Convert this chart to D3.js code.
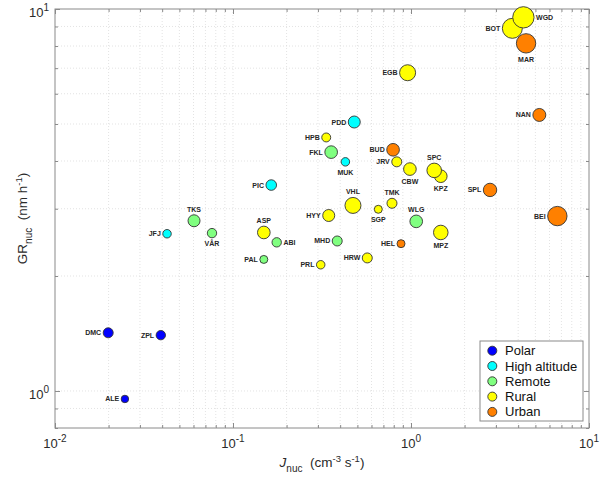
<!DOCTYPE html>
<html><head><meta charset="utf-8">
<script src="https://cdn.jsdelivr.net/npm/d3@7"></script>
<style>body{margin:0;background:#fff} text{font-family:"Liberation Sans",Arial,Helvetica,sans-serif}</style>
</head><body><svg id="c" width="600" height="480"></svg>
<script>
const categories = ['Polar','High altitude','Remote','Rural','Urban'];
const categoryColors = ['#0000ff','#00ffff','#80ff80','#ffff00','#ff8000'];
const sites = ['DMC','ZPL','ALE',
  'PDD','MUK','PIC','JFJ',
  'FKL','TKS','VÅR','ABI','PAL','WLG','MHD',
  'HPB','JRV','CBW','KPZ','SPC','VHL','TMK','SGP','ASP','HYY','MPZ','HRW','PRL','EGB','BOT','WGD',
  'BUD','SPL','HEL','NAN','BEI','MAR'];
const siteCategory = [0,0,0, 1,1,1,1, 2,2,2,2,2,2,2,
  3,3,3,3,3,3,3,3,3,3,3,3,3,3,3,3, 4,4,4,4,4,4];
const jNuc = [0.0199,0.0393,0.0247,
  0.480,0.428,0.164,0.0426,
  0.356,0.0604,0.0762,0.176,0.149,1.07,0.385,
  0.334,0.832,0.986,1.47,1.35,0.472,0.782,0.655,0.149,0.345,1.47,0.568,0.311,0.957,3.71,4.28,
  0.793,2.78,0.879,5.26,6.64,4.43];
const grNuc = [1.42,1.40,0.953,
  5.06,3.98,3.46,2.58,
  4.22,2.79,2.59,2.45,2.21,2.78,2.47,
  4.61,3.98,3.81,3.65,3.78,3.06,3.10,2.99,2.60,2.88,2.60,2.23,2.14,6.81,8.90,9.51,
  4.28,3.36,2.43,5.28,2.87,8.13];
const markerArea = [25,22,14,
  36,18,28,18,
  40,36,22,22,16,40,25,
  20,25,40,40,53,64,25,16,40,36,53,25,18,64,100,114,
  40,45,16,42,94,94];
const labelSide = ['l','l','l',
  'l','b','l','l',
  'l','t','b','r','l','t','l',
  'l','l','b','b','t','t','t','b','t','l','b','l','l','l','l','r',
  'l','l','l','l','l','b'];
const xDomain = [0.01, 10];
const yDomain = [0.8, 10];
const xTickExps = [-2,-1,0,1];
const yTickExps = [0,1];

const svg = d3.select('#c');
const L=55,R=589,T=9,B=428;
const x = d3.scaleLog().domain(xDomain).range([L,R]);
const y = d3.scaleLog().domain(yDomain).range([B,T]);
const rScale = d3.scaleSqrt().domain([0,100]).range([0,10]);

function logTicks(lo, hi){
  const out=[];
  for(let e=Math.floor(Math.log10(lo)); e<=Math.ceil(Math.log10(hi)); e++){
    for(let k=1;k<10;k++){const v=k*Math.pow(10,e); if(v>=lo*0.9999 && v<=hi*1.0001) out.push(v);}
  }
  return out;
}
const xAll = logTicks(xDomain[0], xDomain[1]);
const yAll = logTicks(yDomain[0], yDomain[1]);
const isMajor = v => Math.abs(Math.log10(v)-Math.round(Math.log10(v)))<1e-6;

// grid
const grid = svg.append('g').attr('stroke','#dcdcdc').attr('stroke-width',0.8).attr('stroke-dasharray','1,2');
xAll.filter(v=>x(v)>L+0.5 && x(v)<R-0.5).forEach(v=>{
  grid.append('line').attr('x1',x(v)).attr('x2',x(v)).attr('y1',T).attr('y2',B);
});
yAll.filter(v=>y(v)>T+0.5 && y(v)<B-0.5).forEach(v=>{
  grid.append('line').attr('y1',y(v)).attr('y2',y(v)).attr('x1',L).attr('x2',R);
});

// axes ticks (inward, all four sides)
const axCol = '#8a8a8a';
function styleAxis(g){ g.selectAll('path').remove(); g.selectAll('line').attr('stroke',axCol); g.selectAll('text').remove(); }
const xMaj = xAll.filter(isMajor), xMin = xAll.filter(v=>!isMajor(v));
const yMaj = yAll.filter(isMajor), yMin = yAll.filter(v=>!isMajor(v));
[[xMaj,5],[xMin,3]].forEach(([vals,len])=>{
  svg.append('g').attr('transform',`translate(0,${B})`).call(d3.axisBottom(x).tickValues(vals).tickSize(-len).tickFormat('')).call(styleAxis);
  svg.append('g').attr('transform',`translate(0,${T})`).call(d3.axisTop(x).tickValues(vals).tickSize(-len).tickFormat('')).call(styleAxis);
});
[[yMaj,5],[yMin,3]].forEach(([vals,len])=>{
  svg.append('g').attr('transform',`translate(${L},0)`).call(d3.axisLeft(y).tickValues(vals).tickSize(-len).tickFormat('')).call(styleAxis);
  svg.append('g').attr('transform',`translate(${R},0)`).call(d3.axisRight(y).tickValues(vals).tickSize(-len).tickFormat('')).call(styleAxis);
});
svg.append('rect').attr('x',L).attr('y',T).attr('width',R-L).attr('height',B-T)
  .attr('fill','none').attr('stroke',axCol).attr('stroke-width',1);

// tick labels
const tCol = '#2a2a2a';
xTickExps.forEach(e=>{
  const t = svg.append('text').attr('x',x(Math.pow(10,e))).attr('y',448).attr('text-anchor','middle')
    .attr('font-size',13).attr('fill',tCol);
  t.append('tspan').text('10');
  t.append('tspan').attr('dy',-6).attr('font-size',10).text(e<0?'-'+(-e):String(e));
});
yTickExps.forEach(e=>{
  const t = svg.append('text').attr('x',L-6).attr('y',y(Math.pow(10,e))+8).attr('text-anchor','end')
    .attr('font-size',13).attr('fill',tCol);
  t.append('tspan').text('10');
  t.append('tspan').attr('dy',-6).attr('font-size',10).text(e<0?'-'+(-e):String(e));
});

// axis labels
const xl = svg.append('text').attr('x',(L+R)/2).attr('y',466.5).attr('text-anchor','middle').attr('font-size',13.5).attr('fill',tCol);
xl.append('tspan').attr('font-style','italic').text('J');
xl.append('tspan').attr('dy',5).attr('font-size',10).text('nuc');
xl.append('tspan').attr('dy',-5).text('\u00a0\u00a0(cm');
xl.append('tspan').attr('dy',-5).attr('font-size',9.5).text('-3');
xl.append('tspan').attr('dy',5).text(' s');
xl.append('tspan').attr('dy',-5).attr('font-size',9.5).text('-1');
xl.append('tspan').attr('dy',5).text(')');

const yl = svg.append('text').attr('transform',`translate(27,${(T+B)/2}) rotate(-90)`).attr('text-anchor','middle').attr('font-size',13.5).attr('fill',tCol);
yl.append('tspan').text('GR');
yl.append('tspan').attr('dy',5).attr('font-size',10).text('nuc');
yl.append('tspan').attr('dy',-5).text('\u00a0\u00a0(nm h');
yl.append('tspan').attr('dy',-5).attr('font-size',9.5).text('-1');
yl.append('tspan').attr('dy',5).text(')');

// points
const pts = sites.map((s,i)=>({s, c:siteCategory[i], x:jNuc[i], y:grNuc[i], a:markerArea[i], side:labelSide[i]}));
const pg = svg.append('g');
pts.forEach(p=>{
  const cx=x(p.x), cy=y(p.y), r=rScale(p.a);
  pg.append('circle').attr('cx',cx).attr('cy',cy).attr('r',r)
    .attr('fill',categoryColors[p.c]).attr('stroke','#333').attr('stroke-width',0.9);
});
const lg = svg.append('g').attr('font-size',7).attr('font-weight','bold').attr('fill','#262626');
pts.forEach(p=>{
  const cx=x(p.x), cy=y(p.y), r=rScale(p.a);
  let tx=cx, ty=cy+2.5, anchor='middle';
  if(p.side==='l'){tx=cx-r-2; anchor='end';}
  else if(p.side==='r'){tx=cx+r+2; anchor='start';}
  else if(p.side==='t'){ty=cy-r-3;}
  else if(p.side==='b'){ty=cy+r+8.5;}
  lg.append('text').attr('x',tx).attr('y',ty).attr('text-anchor',anchor).text(p.s);
});

// legend
const leg = svg.append('g');
leg.append('rect').attr('x',480).attr('y',341).attr('width',103).attr('height',80)
  .attr('fill','#fff').attr('stroke',axCol).attr('stroke-width',1);
categories.forEach((c,i)=>{
  const cy = 350.7 + i*15.3;
  leg.append('circle').attr('cx',492.3).attr('cy',cy).attr('r',4.5)
    .attr('fill',categoryColors[i]).attr('stroke','#333').attr('stroke-width',0.9);
  leg.append('text').attr('x',505).attr('y',cy+4.5).attr('font-size',13).attr('fill','#111').text(c);
});
</script></body></html>
